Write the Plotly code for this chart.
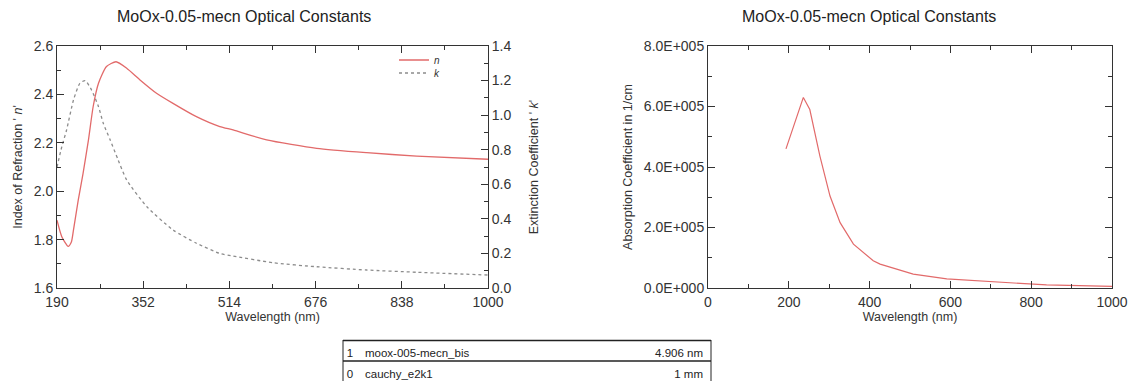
import plotly.graph_objects as go

# Refractive index n(λ)
wl_n = [190, 199, 211, 217, 221, 230, 239, 249, 258, 268, 283, 301, 321, 346, 377,
        408, 452, 496, 521, 584, 678, 772, 866, 1000]
n_vals = [1.88, 1.812, 1.772, 1.79, 1.84, 1.964, 2.074, 2.21, 2.35, 2.446, 2.515,
          2.535, 2.508, 2.46, 2.405, 2.363, 2.308, 2.267, 2.253, 2.212, 2.177,
          2.159, 2.145, 2.132]

# Extinction coefficient k(λ)
wl_k = [190, 199, 208, 221, 233, 243, 255, 268, 277, 290, 305, 321, 359, 408, 452,
        496, 521, 596, 678, 772, 866, 1000]
k_vals = [0.70, 0.817, 0.914, 1.088, 1.184, 1.20, 1.145, 1.049, 0.953, 0.856, 0.74,
          0.625, 0.47, 0.336, 0.259, 0.20, 0.185, 0.146, 0.123, 0.104, 0.091, 0.075]

# Absorption coefficient (1/cm)
wl_a = [193, 236, 252, 277, 302, 327, 360, 409, 426, 492, 508, 591, 715, 838, 1000]
alpha = [4.6e5, 6.3e5, 5.9e5, 4.36e5, 3.04e5, 2.16e5, 1.45e5, 0.90e5, 0.79e5,
         0.52e5, 0.46e5, 0.30e5, 0.19e5, 0.10e5, 0.056e5]

alpha_tickvals = [0, 2e5, 4e5, 6e5, 8e5]
alpha_ticktext = ["0.0E+000", "2.0E+005", "4.0E+005", "6.0E+005", "8.0E+005"]

# Layer stack table
layer_idx = ["1", "0"]
layer_name = ["moox-005-mecn_bis", "cauchy_e2k1"]
layer_thick = ["4.906 nm", "1 mm"]

title_text = "MoOx-0.05-mecn Optical Constants"

W, H = 1131, 381
FONT = "Liberation Sans, Arial, sans-serif"
AX = "#333333"
RED = "#e26a6a"
GREY = "#8c8c8c"


def px(x):
    return x / W


def py(y):
    return 1 - y / H


fig = go.Figure()

fig.add_trace(go.Scatter(x=wl_n, y=n_vals, mode="lines", name="<i>n</i>",
                         legend="legend",
                         line=dict(color=RED, width=1.3, shape="spline", smoothing=0.6),
                         xaxis="x", yaxis="y"))
fig.add_trace(go.Scatter(x=wl_k, y=k_vals, mode="lines", name="<i>k</i>",
                         legend="legend2",
                         line=dict(color=GREY, width=1.3, dash="dot", shape="spline",
                                   smoothing=0.6),
                         xaxis="x", yaxis="y2"))
fig.add_trace(go.Scatter(x=wl_a, y=alpha, mode="lines", showlegend=False,
                         line=dict(color=RED, width=1.2),
                         xaxis="x2", yaxis="y3"))

TX0, TX1 = 343, 711
fig.add_trace(go.Table(
    domain=dict(x=[px(TX0), px(TX1)], y=[0, py(340)]),
    columnwidth=[14, 270, 84],
    header=dict(values=[layer_idx[0], layer_name[0], layer_thick[0]],
                align=["center", "left", "right"], height=21,
                fill_color="white", line=dict(color="white", width=0),
                font=dict(family=FONT, size=11.5, color="#222")),
    cells=dict(values=[layer_idx[1:], layer_name[1:], layer_thick[1:]],
               align=["center", "left", "right"], height=20,
               fill_color="white", line=dict(color="white", width=0),
               font=dict(family=FONT, size=11.5, color="#222")),
))

tickfont = dict(family=FONT, size=14, color=AX)
titlefont = dict(family=FONT, size=12.5, color=AX)

common = dict(showline=True, linecolor=AX, linewidth=1, ticks="inside",
              ticklen=7, tickwidth=1, tickcolor=AX, showgrid=False,
              zeroline=False, tickfont=tickfont, automargin=False)

dom_y = [py(288), py(46)]
minor_style = dict(ticks="inside", ticklen=4, tickcolor=AX, tickwidth=1)

fig.update_layout(
    width=W, height=H, margin=dict(l=0, r=0, t=0, b=0),
    paper_bgcolor="white", plot_bgcolor="white",
    font=dict(family=FONT, color=AX),
    xaxis=dict(domain=[px(57), px(488)], range=[190, 1000], tick0=190, dtick=162,
               mirror="ticks", anchor="y", ticklabelstandoff=1,
               minor=dict(tick0=190, dtick=81, **minor_style),
               title=dict(text="Wavelength (nm)", font=titlefont, standoff=3),
               **common),
    yaxis=dict(domain=dom_y, range=[1.6, 2.6], dtick=0.2, tickformat=".1f",
               anchor="x",
               minor=dict(dtick=0.1, **minor_style),
               title=dict(text="Index of Refraction ' <i>n</i>'", font=titlefont,
                          standoff=8),
               **common),
    yaxis2=dict(domain=dom_y, range=[0, 1.4], dtick=0.2, tickformat=".1f",
                overlaying="y", side="right", anchor="x",
                minor=dict(dtick=0.1, **minor_style),
                title=dict(text="Extinction Coefficient ' <i>k</i>'", font=titlefont,
                           standoff=18),
                **common),
    xaxis2=dict(domain=[px(708), px(1112)], range=[0, 1000], dtick=200,
                mirror="ticks", anchor="y3", ticklabelstandoff=1,
                minor=dict(dtick=100, **minor_style),
                title=dict(text="Wavelength (nm)", font=titlefont, standoff=3),
                **common),
    yaxis3=dict(domain=dom_y, range=[0, 8e5], tickvals=alpha_tickvals,
                ticktext=alpha_ticktext, mirror="ticks", anchor="x2",
                minor=dict(tickvals=[1e5, 3e5, 5e5, 7e5], **minor_style),
                title=dict(text="Absorption Coefficient in 1/cm", font=titlefont,
                           standoff=8),
                **common),
    legend=dict(x=px(394), y=py(60), xanchor="left", yanchor="middle",
                bgcolor="rgba(0,0,0,0)", itemwidth=30,
                font=dict(family=FONT, size=10, color=AX)),
    legend2=dict(x=px(394), y=py(73), xanchor="left", yanchor="middle",
                 bgcolor="rgba(0,0,0,0)", itemwidth=30,
                 font=dict(family=FONT, size=10, color=AX)),
    annotations=[
        dict(text=title_text, x=px(244), y=py(17), xref="paper", yref="paper",
             xanchor="center", yanchor="middle", showarrow=False,
             font=dict(family=FONT, size=16, color="#222")),
        dict(text=title_text, x=px(869), y=py(17), xref="paper", yref="paper",
             xanchor="center", yanchor="middle", showarrow=False,
             font=dict(family=FONT, size=16, color="#222")),
    ],
    shapes=[
        dict(type="line", xref="paper", yref="paper", x0=px(TX0), x1=px(TX1),
             y0=py(340.5), y1=py(340.5), line=dict(color="#222", width=1.6)),
        dict(type="line", xref="paper", yref="paper", x0=px(TX0), x1=px(TX1),
             y0=py(361), y1=py(361), line=dict(color="#222", width=1.6)),
        dict(type="line", xref="paper", yref="paper", x0=px(TX0), x1=px(TX0),
             y0=py(340), y1=py(381), line=dict(color="#222", width=1)),
        dict(type="line", xref="paper", yref="paper", x0=px(TX1), x1=px(TX1),
             y0=py(340), y1=py(381), line=dict(color="#222", width=1)),
    ],
)

fig.write_html("out.html")
